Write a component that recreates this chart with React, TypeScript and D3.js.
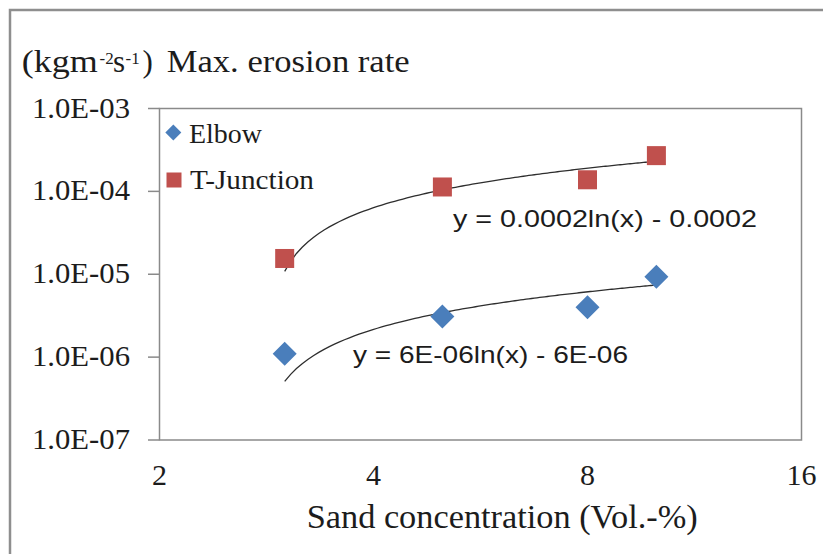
import React from "react";
import * as d3 from "d3";

// Sand concentration (Vol.-%) at which erosion was measured
const concentrations = [3, 5, 8, 10];
// Maximum erosion rate (kg m^-2 s^-1)
const elbowRates = [1.1e-6, 3.1e-6, 4.0e-6, 9.3e-6];
const tJunctionRates = [1.55e-5, 1.13e-4, 1.38e-4, 2.7e-4];

const xTicks = [2, 4, 8, 16];
const yTicks = [1e-3, 1e-4, 1e-5, 1e-6, 1e-7];

const seriesNames = ["Elbow", "T-Junction"];
const equationLabels = ["y = 6E-06ln(x) - 6E-06", "y = 0.0002ln(x) - 0.0002"];

const W = 823;
const H = 554;
const plot = { left: 159.5, right: 801.5, top: 108.5, bottom: 440 };

const BLUE = "#4a7ebb";
const RED = "#c0504d";
const INK = "#1c1c1c";
const SERIF = "'Liberation Serif', 'Times New Roman', serif";
const SANS = "'Liberation Sans', Arial, sans-serif";

// Least-squares fit of y = a ln(x) + b (Excel logarithmic trendline)
function logFit(xs: number[], ys: number[]) {
  const lx = xs.map((v) => Math.log(v));
  const mx = d3.mean(lx)!;
  const my = d3.mean(ys)!;
  let sxy = 0;
  let sxx = 0;
  lx.forEach((v, i) => {
    sxy += (v - mx) * (ys[i] - my);
    sxx += (v - mx) * (v - mx);
  });
  const a = sxy / sxx;
  const b = my - a * mx;
  return (x: number) => a * Math.log(x) + b;
}

const diamond = (r: number) => `M0,${-r}L${r},0L0,${r}L${-r},0Z`;

export default function App() {
  const x = d3.scaleLog().base(2).domain([2, 16]).range([plot.left, plot.right]);
  const y = d3.scaleLog().domain([1e-7, 1e-3]).range([plot.bottom, plot.top]);

  const xMin = d3.min(concentrations)!;
  const xMax = d3.max(concentrations)!;
  const samples = d3.range(0, 121).map((i) => xMin + ((xMax - xMin) * i) / 120);

  const trend = (ys: number[]) => {
    const f = logFit(concentrations, ys);
    const pts = samples
      .map((c) => [c, f(c)] as [number, number])
      .filter((p) => p[1] > 0);
    return d3
      .line<[number, number]>()
      .x((p) => x(p[0]))
      .y((p) => y(p[1]))(pts) as string;
  };

  const fmt = (v: number) => v.toExponential(1).toUpperCase().replace(/E([+-])(\d)$/, "E$10$2");

  return (
    <svg
      width={W}
      height={H}
      style={{ position: "absolute", left: 0, top: 0, display: "block" }}
    >
      <rect x={0} y={0} width={W} height={H} fill="#ffffff" />
      {/* outer chart frame */}
      <path d={`M10,${H}V10H${W}`} fill="none" stroke="#8e8e8e" strokeWidth={2.5} />

      {/* vertical axis title */}
      <text fontFamily={SERIF} fill={INK} fontSize={31}>
        <tspan x={21.7} y={71.7} textLength={76} lengthAdjust="spacingAndGlyphs">(kgm</tspan>
        <tspan x={99.5} y={64} fontSize={17}>-2</tspan>
        <tspan x={113} y={71.7}>s</tspan>
        <tspan x={125.5} y={64} fontSize={17}>-1</tspan>
        <tspan x={142.5} y={71.7}>)</tspan>
        <tspan x={166.7} y={71.7} textLength={243} lengthAdjust="spacingAndGlyphs">
          Max. erosion rate
        </tspan>
      </text>

      {/* plot area */}
      <rect
        x={plot.left}
        y={plot.top}
        width={plot.right - plot.left}
        height={plot.bottom - plot.top}
        fill="none"
        stroke="#8a8a8a"
        strokeWidth={1.5}
      />

      {/* y axis ticks and labels */}
      {yTicks.map((t) => (
        <g key={t}>
          <line x1={148} x2={plot.left} y1={y(t)} y2={y(t)} stroke="#8a8a8a" strokeWidth={1.5} />
          <text
            x={130}
            y={y(t) + 9}
            textAnchor="end"
            fontFamily={SERIF}
            fontSize={30}
            fill={INK}
            textLength={98}
            lengthAdjust="spacingAndGlyphs"
          >
            {fmt(t)}
          </text>
        </g>
      ))}

      {/* x axis labels */}
      {xTicks.map((t) => (
        <text
          key={t}
          x={x(t)}
          y={485}
          textAnchor="middle"
          fontFamily={SERIF}
          fontSize={30}
          fill={INK}
        >
          {t}
        </text>
      ))}
      <text
        x={306.7}
        y={528}
        fontFamily={SERIF}
        fontSize={33}
        fill={INK}
        textLength={391}
        lengthAdjust="spacingAndGlyphs"
      >
        Sand concentration (Vol.-%)
      </text>

      {/* logarithmic trendlines */}
      <path d={trend(tJunctionRates)} fill="none" stroke="#2e2e2e" strokeWidth={1.3} />
      <path d={trend(elbowRates)} fill="none" stroke="#2e2e2e" strokeWidth={1.3} />

      {/* data markers */}
      {concentrations.map((c, i) => (
        <rect
          key={"t" + c}
          x={x(c) - 9.5}
          y={y(tJunctionRates[i]) - 9.5}
          width={19}
          height={19}
          fill={RED}
        />
      ))}
      {concentrations.map((c, i) => (
        <path
          key={"e" + c}
          d={diamond(12)}
          transform={`translate(${x(c)},${y(elbowRates[i])})`}
          fill={BLUE}
        />
      ))}

      {/* trendline equations */}
      <text
        x={453}
        y={227}
        fontFamily={SANS}
        fontSize={24}
        fill={INK}
        textLength={304}
        lengthAdjust="spacingAndGlyphs"
      >
        {equationLabels[1]}
      </text>
      <text
        x={353}
        y={363}
        fontFamily={SANS}
        fontSize={24}
        fill={INK}
        textLength={275}
        lengthAdjust="spacingAndGlyphs"
      >
        {equationLabels[0]}
      </text>

      {/* legend */}
      <path d={diamond(8)} transform="translate(173.3,132.5)" fill={BLUE} />
      <text
        x={189}
        y={142.5}
        fontFamily={SERIF}
        fontSize={28}
        fill={INK}
        textLength={73}
        lengthAdjust="spacingAndGlyphs"
      >
        {seriesNames[0]}
      </text>
      <rect x={166.5} y={172.5} width={15} height={15} fill={RED} />
      <text
        x={190}
        y={189}
        fontFamily={SERIF}
        fontSize={28}
        fill={INK}
        textLength={124}
        lengthAdjust="spacingAndGlyphs"
      >
        {seriesNames[1]}
      </text>
    </svg>
  );
}
